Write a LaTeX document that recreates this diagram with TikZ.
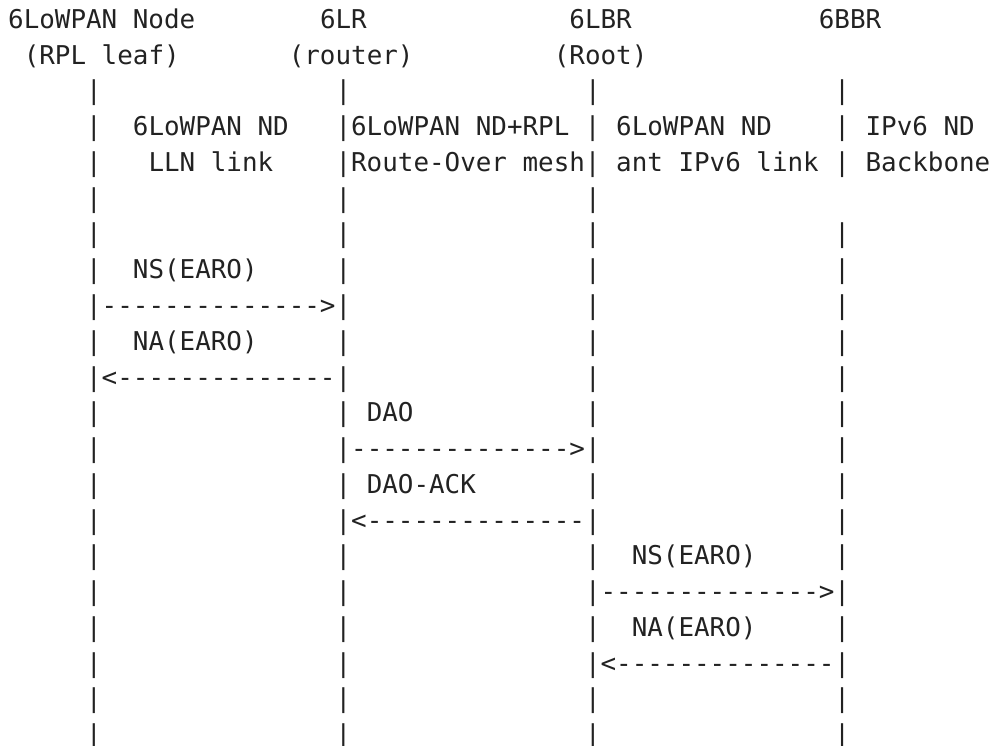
\documentclass[tikz,border=0pt]{standalone}
\usepackage{fontspec}
\setmonofont{DejaVu Sans Mono}
\definecolor{ink}{HTML}{222222}
\ExplSyntaxOn
\NewDocumentCommand \bl { m } { \prg_replicate:nn {#1} { \nobreakspace } }
\NewDocumentCommand \dashrun { } { \prg_replicate:nn {14} { - } }
\ExplSyntaxOff
\begin{document}
\begin{tikzpicture}[x=1pt,y=1pt,
  asciirow/.style={anchor=base west, inner sep=0pt, outer sep=0pt, text=ink,
    font=\ttfamily\fontsize{25.895}{35.75}\selectfont}]
\useasboundingbox (0,0) rectangle (991,-746);
\node[asciirow] (r0)  at (8.2,-28.5)  {6LoWPAN Node\bl{8}6LR\bl{13}6LBR\bl{12}6BBR};
\node[asciirow] (r1)  at (8.2,-64.25) {\bl{1}(RPL leaf)\bl{7}(router)\bl{9}(Root)};
\node[asciirow] (r2)  at (8.2,-100)   {\bl{5}|\bl{15}|\bl{15}|\bl{15}|};
\node[asciirow] (r3)  at (8.2,-135.75){\bl{5}|\bl{2}6LoWPAN ND\bl{3}|6LoWPAN ND+RPL\bl{1}|\bl{1}6LoWPAN ND\bl{4}|\bl{1}IPv6 ND};
\node[asciirow] (r4)  at (8.2,-171.5) {\bl{5}|\bl{3}LLN link\bl{4}|Route-Over mesh|\bl{1}ant IPv6 link\bl{1}|\bl{1}Backbone};
\node[asciirow] (r5)  at (8.2,-207.25){\bl{5}|\bl{15}|\bl{15}|};
\node[asciirow] (r6)  at (8.2,-243)   {\bl{5}|\bl{15}|\bl{15}|\bl{15}|};
\node[asciirow] (r7)  at (8.2,-278.75){\bl{5}|\bl{2}NS(EARO)\bl{5}|\bl{15}|\bl{15}|};
\node[asciirow] (r8)  at (8.2,-314.5) {\bl{5}|\dashrun>|\bl{15}|\bl{15}|};
\node[asciirow] (r9)  at (8.2,-350.25){\bl{5}|\bl{2}NA(EARO)\bl{5}|\bl{15}|\bl{15}|};
\node[asciirow] (r10) at (8.2,-386)   {\bl{5}|<\dashrun|\bl{15}|\bl{15}|};
\node[asciirow] (r11) at (8.2,-421.75){\bl{5}|\bl{15}|\bl{1}DAO\bl{11}|\bl{15}|};
\node[asciirow] (r12) at (8.2,-457.5) {\bl{5}|\bl{15}|\dashrun>|\bl{15}|};
\node[asciirow] (r13) at (8.2,-493.25){\bl{5}|\bl{15}|\bl{1}DAO-ACK\bl{7}|\bl{15}|};
\node[asciirow] (r14) at (8.2,-529)   {\bl{5}|\bl{15}|<\dashrun|\bl{15}|};
\node[asciirow] (r15) at (8.2,-564.75){\bl{5}|\bl{15}|\bl{15}|\bl{2}NS(EARO)\bl{5}|};
\node[asciirow] (r16) at (8.2,-600.5) {\bl{5}|\bl{15}|\bl{15}|\dashrun>|};
\node[asciirow] (r17) at (8.2,-636.25){\bl{5}|\bl{15}|\bl{15}|\bl{2}NA(EARO)\bl{5}|};
\node[asciirow] (r18) at (8.2,-672)   {\bl{5}|\bl{15}|\bl{15}|<\dashrun|};
\node[asciirow] (r19) at (8.2,-707.75){\bl{5}|\bl{15}|\bl{15}|\bl{15}|};
\node[asciirow] (r20) at (8.2,-743.5) {\bl{5}|\bl{15}|\bl{15}|\bl{15}|};
\end{tikzpicture}
\end{document}
